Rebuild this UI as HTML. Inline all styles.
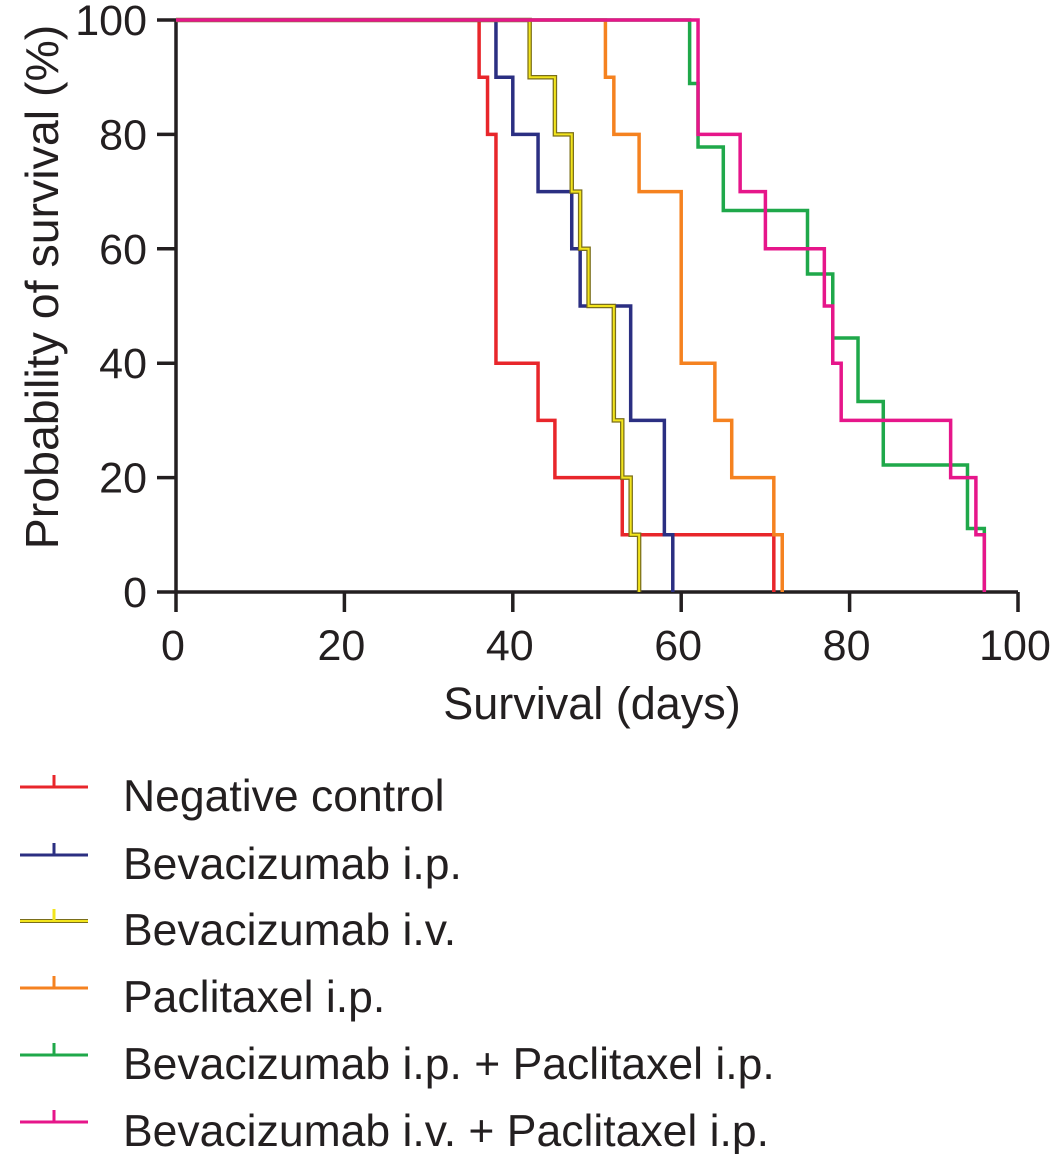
<!DOCTYPE html>
<html><head><meta charset="utf-8"><style>
html,body{margin:0;padding:0;background:#fff;}
svg{display:block;font-family:"Liberation Sans",Arial,sans-serif;}
</style></head><body>
<svg id="chart" width="1063" height="1154" viewBox="0 0 1063 1154"></svg>
<script>
const seriesNames = ["Negative control","Bevacizumab i.p.","Bevacizumab i.v.","Paclitaxel i.p.","Bevacizumab i.p. + Paclitaxel i.p.","Bevacizumab i.v. + Paclitaxel i.p."];
const seriesColors = ["#e8262b","#2b2f82","#f2e41c","#f58220","#1fa84a","#e6168a"];
// step times (days) and survival after each step (%)
const negDays = [36,37,38,43,45,53,71];
const negSurv = [90,80,40,30,20,10,0];
const bipDays = [38,40,43,47,48,54,58,59];
const bipSurv = [90,80,70,60,50,30,10,0];
const bivDays = [42,45,47,48,49,52,53,54,55];
const bivSurv = [90,80,70,60,50,30,20,10,0];
const pacDays = [51,52,55,60,64,66,71,72];
const pacSurv = [90,80,70,40,30,20,10,0];
const bipPacDays = [61,62,65,75,78,81,84,94,96];
const bipPacSurv = [88.9,77.8,66.7,55.6,44.4,33.3,22.2,11.1,0];
const bivPacDays = [62,67,70,77,78,79,92,95,96];
const bivPacSurv = [80,70,60,50,40,30,20,10,0];
const xTicks = [0,20,40,60,80,100];
const yTicks = [0,20,40,60,80,100];

const NS="http://www.w3.org/2000/svg";
const svg=document.getElementById('chart');
const X0=176,X1=1018,Y0=592,Y1=20;
const sx=d=>X0+(X1-X0)*d/100;
const sy=v=>Y0-(Y0-Y1)*v/100;
function mk(tag,attrs,parent){const e=document.createElementNS(NS,tag);for(const k in attrs)e.setAttribute(k,attrs[k]);(parent||svg).appendChild(e);return e;}

const axes=mk('g',{});


const ya=mk('line',{x1:X0,y1:Y1,x2:X0,y2:Y0,stroke:'#231f20','stroke-width':3.5},axes);


const xa=mk('line',{x1:X0,y1:Y0,x2:X1,y2:Y0,stroke:'#231f20','stroke-width':3.5},axes);


yTicks.forEach(v=>{
  const t=mk('line',{x1:157,y1:sy(v),x2:X0,y2:sy(v),stroke:'#231f20','stroke-width':3.5},axes);
  
  
  const l=mk('text',{x:147,y:sy(v)+15,'text-anchor':'end','font-size':43,fill:'#231f20'},axes);
  l.textContent=v;
  
  
});
xTicks.forEach(v=>{
  const t=mk('line',{x1:sx(v),y1:Y0,x2:sx(v),y2:612,stroke:'#231f20','stroke-width':3.5},axes);
  
  
  const l=mk('text',{x:sx(v)-3,y:660,'text-anchor':'middle','font-size':43,fill:'#231f20'},axes);
  l.textContent=v;
  
  
});
const xt=mk('text',{x:592,y:719,'text-anchor':'middle','font-size':45,fill:'#231f20'});
xt.textContent='Survival (days)';


const yt=mk('text',{x:0,y:0,'text-anchor':'middle','font-size':46.5,fill:'#231f20',transform:'translate(58,287) rotate(-90)'});
yt.textContent='Probability of survival (%)';



const allDays=[negDays,bipDays,bivDays,pacDays,bipPacDays,bivPacDays];
const allSurv=[negSurv,bipSurv,bivSurv,pacSurv,bipPacSurv,bivPacSurv];
[0,1,2,3,4,5].forEach(i=>{
  const days=allDays[i],surv=allSurv[i];
  let d=`M${sx(0)},${sy(100)}`;
  days.forEach((t,j)=>{d+=` H${sx(t)} V${sy(surv[j])}`;});
  if(i===2){
    const o=mk('path',{d,fill:'none',stroke:'#7a6e1a','stroke-width':4.5});
    
    
  }
  const p=mk('path',{d,fill:'none',stroke:seriesColors[i],'stroke-width':i===2?2:3.5});
  
  
});

const legY=[787,855,921,988,1055,1122];
seriesNames.forEach((n,i)=>{
  const g=mk('g',{});
  
  
  const y=legY[i];
  if(i===2){mk('line',{x1:20,y1:y,x2:88,y2:y,stroke:'#7a6e1a','stroke-width':4},g);}
  mk('line',{x1:20,y1:y,x2:88,y2:y,stroke:seriesColors[i],'stroke-width':i===2?2:3},g);
  mk('line',{x1:54,y1:y-12,x2:54,y2:y,stroke:seriesColors[i],'stroke-width':3},g);
  const t=mk('text',{x:123,y:y+24,'font-size':44.5,fill:'#231f20'},g);
  t.textContent=n;
});
</script>
</body></html>
